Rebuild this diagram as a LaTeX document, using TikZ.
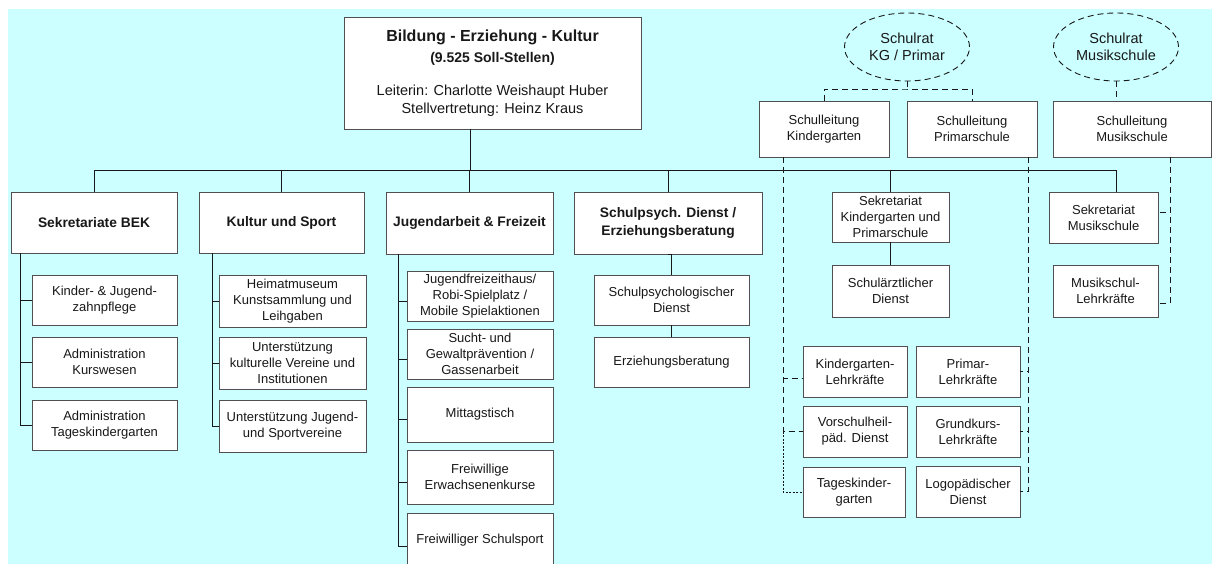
\documentclass[tikz,border=0pt]{standalone}
\usepackage{fontspec}
\setmainfont{Liberation Sans}
\usetikzlibrary{shapes.geometric}

\definecolor{bgcyan}{RGB}{204,255,255}
\definecolor{framegray}{RGB}{80,80,80}
\definecolor{inkgray}{RGB}{24,24,24}

\newcommand\bodyfont{\fontsize{13}{15.8}\selectfont}
\newcommand\headfont{\fontsize{13.8}{18}\selectfont\bfseries}

% \orgbox[style]{name}{x1}{y1}{x2}{y2}{text}: a box given by its corners (in px)
\newcommand\orgbox[7][]{%
  \node[box,#1,minimum width={(#5)-(#3)},minimum height={(#6)-(#4)}]
    (#2) at ({((#3)+(#5))/2},{((#4)+(#6))/2}) {#7};}

\begin{document}
\begin{tikzpicture}[x=1pt,y=-1pt,
  box/.style={draw=framegray, fill=white, line width=0.9pt, align=center,
    inner sep=1pt, outer sep=0pt, text=inkgray, font=\bodyfont},
  head/.style={font=\headfont},
  council/.style={ellipse, draw=inkgray, line width=0.9pt,
    dash pattern=on 6pt off 4pt, inner sep=0pt, outer sep=0pt,
    minimum width=125, minimum height=68, align=center, text=inkgray,
    font=\fontsize{14.5}{17.5}\selectfont},
  link/.style={draw=inkgray, line width=0.9pt},
  dl/.style={link, dash pattern=on 6pt off 4pt},
  dotl/.style={link, line width=0.7pt, dash pattern=on 2pt off 1.5pt},
]
\useasboundingbox (0,0) rectangle (1212,564);
\fill[bgcyan] (8,9) rectangle (1212,564);

% head of department
\node[box, minimum width=297, minimum height=112, font=\fontsize{14.5}{18}\selectfont]
  (top) at (492.5,73)
  {{\fontsize{16}{19}\selectfont\bfseries Bildung - Erziehung - Kultur}\\[3pt]
   {\fontsize{14}{17}\selectfont\bfseries (9.525 Soll-Stellen)}\\[15pt]
   Leiterin: Charlotte Weishaupt Huber\\
   Stellvertretung: Heinz Kraus};

% school councils
\node[council] (rkg) at (907,47) {Schulrat\\KG / Primar};
\node[council] (rmu) at (1116,47) {Schulrat\\Musikschule};

% school management
\orgbox{slk}{759}{101}{889}{157}{Schulleitung\\Kindergarten}
\orgbox{slp}{907}{101}{1037}{157}{Schulleitung\\Primarschule}
\orgbox{slm}{1053}{101}{1211}{157}{Schulleitung\\Musikschule}

% departments
\orgbox[head]{sek}{11}{192}{177}{253}{Sekretariate BEK}
\orgbox[head]{kus}{199}{192}{364}{253}{Kultur und Sport}
\orgbox[head]{jug}{386}{192}{553}{254}{Jugendarbeit \& Freizeit}
\orgbox[head]{psy}{574}{192}{762}{254}{Schulpsych. Dienst /\\Erziehungsberatung}
\orgbox{skg}{832}{192}{949}{242}{Sekretariat\\Kindergarten und\\Primarschule}
\orgbox{smu}{1049}{192}{1158}{243}{Sekretariat\\Musikschule}

% Sekretariate BEK
\orgbox{zahn}{32}{275}{177}{325}{Kinder- \& Jugend-\\zahnpflege}
\orgbox{kurs}{32}{337}{177}{387}{Administration\\Kurswesen}
\orgbox{tkad}{32}{400}{177}{450}{Administration\\Tageskindergarten}

% Kultur und Sport
\orgbox{heim}{219}{275}{366}{327}{Heimatmuseum\\Kunstsammlung und\\Leihgaben}
\orgbox{kver}{219}{337}{366}{389}{Unterstützung\\kulturelle Vereine und\\Institutionen}
\orgbox{sver}{219}{400}{366}{452}{Unterstützung Jugend-\\und Sportvereine}

% Jugendarbeit & Freizeit
\orgbox{jfh}{407}{271}{553}{321}{Jugendfreizeithaus/\\Robi-Spielplatz /\\Mobile Spielaktionen}
\orgbox{sucht}{407}{329}{553}{379}{Sucht- und\\Gewaltprävention /\\Gassenarbeit}
\orgbox{mitt}{407}{387}{553}{442}{Mittagstisch}
\orgbox{erw}{407}{450}{553}{504}{Freiwillige\\Erwachsenenkurse}
\orgbox{ssp}{407}{513}{553}{567}{Freiwilliger Schulsport}

% Schulpsychologie
\orgbox{spd}{594}{275}{749}{325}{Schulpsychologischer\\Dienst}
\orgbox{erz}{594}{337}{749}{387}{Erziehungsberatung}

% Kindergarten / Primarschule
\orgbox{sad}{832}{265}{949}{317}{Schulärztlicher\\Dienst}
\orgbox{klk}{803}{346}{907}{397}{Kindergarten-\\Lehrkräfte}
\orgbox{plk}{916}{346}{1020}{397}{Primar-\\Lehrkräfte}
\orgbox{vhp}{803}{406}{907}{457}{Vorschulheil-\\päd. Dienst}
\orgbox{gkl}{916}{406}{1020}{457}{Grundkurs-\\Lehrkräfte}
\orgbox{tkg}{803}{467}{905}{517}{Tageskinder-\\garten}
\orgbox{logo}{916}{466}{1020}{517}{Logopädischer\\Dienst}

% Musikschule
\orgbox{mlk}{1053}{265}{1158}{317}{Musikschul-\\Lehrkräfte}

% main hierarchy
\coordinate (topdrop) at (470,129);
\coordinate (barL) at (95,170);
\coordinate (barR) at (1116,170);
\coordinate (smudrop) at (1116,192);
\draw[link] (barL) -- (barR);
\draw[link] (topdrop) -- (topdrop |- barL);
\foreach \n in {sek,kus,jug,psy,skg}
  \draw[link] (\n.north) -- (\n.north |- barL);
\draw[link] (smudrop) -- (barR);

% spines of the departments
\coordinate (sekspine) at (20,253);
\foreach \n in {zahn,kurs,tkad} \draw[link] (sekspine) |- (\n.west);
\coordinate (kusspine) at (212,253);
\foreach \n in {heim,kver,sver} \draw[link] (kusspine) |- (\n.west);
\coordinate (jugspine) at (398,254);
\foreach \n in {jfh,sucht,mitt,erw} \draw[link] (jugspine) |- ([yshift=-5pt]\n.west);
\draw[link] (jugspine) |- ([yshift=-6pt]ssp.west);
\draw[link] (psy.south) -- (psy.south -| spd.north) -- (spd.north);
\draw[link] (spd.south) -- (erz.north);
\draw[link] (skg.south) -- (sad.north);

% councils to school management
\coordinate (rkgj) at (907,89);
\draw[dl] (rkg.south) -- (rkgj);
\draw[dl] (slk.north) |- (rkgj) -| (slp.north);
\draw[dl] (rmu.south) -- (rmu.south |- slm.north);

% school management to staff
\coordinate (kgspine) at (783,157);
\draw[dl] (kgspine) |- ([yshift=-7pt]klk.west);
\draw[dl] (kgspine) |- (vhp.west);
\draw[dotl] (kgspine |- vhp.west) |- (tkg.west);
\coordinate (prspine) at (1028,157);
\foreach \n in {plk,gkl,logo} \draw[dl] (prspine) |- (\n.east);
\coordinate (muspine) at (1170,157);
\draw[dl] (muspine) |- ([yshift=5pt]smu.east);
\draw[dl] (muspine) |- ([yshift=-12pt]mlk.east);
\end{tikzpicture}
\end{document}
